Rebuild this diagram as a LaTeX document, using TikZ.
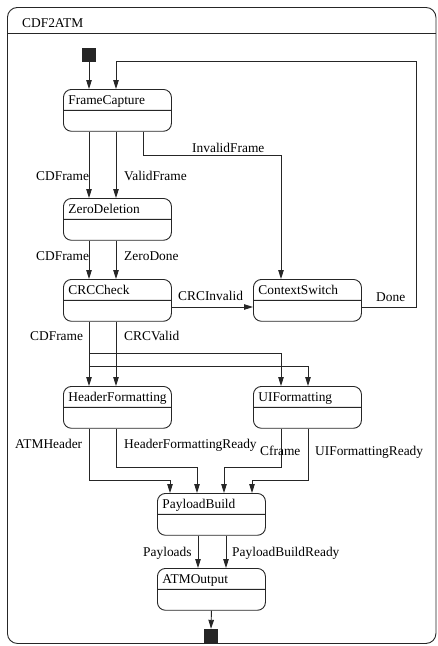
\documentclass[tikz,border=0pt]{standalone}
\usepackage{fontspec}
\setmainfont{Liberation Serif}
\usetikzlibrary{arrows.meta,shapes.multipart}
\begin{document}
\begin{tikzpicture}[x=1pt,y=-1pt,
  every node/.style={font=\fontsize{13.4}{15}\selectfont},
  state/.style={rectangle split, rectangle split parts=2, draw=black!85, line width=0.9pt,
    rounded corners=8pt, inner xsep=5pt, inner ysep=0pt, text width=98pt, align=left, anchor=north west},
  lbl/.style={anchor=base west, inner sep=0pt},
  tr/.style={draw=black!85, line width=0.9pt, -{Triangle[length=9pt,width=5.5pt]}},
  ln/.style={draw=black!85, line width=0.9pt},
  pseudo/.style={fill=black!85, minimum size=14pt, inner sep=0pt},
]
\useasboundingbox (0,0) rectangle (437,646);
% frame
\node[draw=black!85, line width=0.9pt, rounded corners=10pt, minimum width=428.5pt, minimum height=636pt,
  anchor=north west, inner sep=0pt] (frame) at (7,7) {};
\coordinate (Yh) at (0,33);
\draw[ln] (frame.west |- Yh) -- (frame.east |- Yh);
\node[lbl] (ttl) at (22,27) {CDF2ATM};

% lanes and rows
\coordinate (L1) at (89,0);
\coordinate (L2) at (116,0);
\coordinate (L3) at (143,0);
\coordinate (R1) at (281,0);
\coordinate (R2) at (308,0);
\coordinate (Lp) at (416,0);
\coordinate (P1) at (170,0);
\coordinate (P2) at (197,0);
\coordinate (P3) at (224,0);
\coordinate (P4) at (252,0);
\coordinate (Q1) at (198,0);
\coordinate (Q2) at (226,0);
\coordinate (Yt) at (0,61);
\coordinate (Yi) at (0,155);
\coordinate (Yd) at (0,307);
\coordinate (Yb1) at (0,353);
\coordinate (Yb2) at (0,366);
\coordinate (Yc1) at (0,467);
\coordinate (Yc2) at (0,480);

% states
\newcommand{\stT}[1]{\rule[-5.5pt]{0pt}{20pt}#1\nodepart{two}\rule{0pt}{20pt}}
\node[state] (fc) at (63,89) {\stT{FrameCapture}};
\node[state] (zd) at (63,198) {\stT{ZeroDeletion}};
\node[state] (crc) at (63,279) {\stT{CRCCheck}};
\node[state] (cs) at (253,279) {\stT{ContextSwitch}};
\node[state] (hf) at (63,386) {\stT{HeaderFormatting}};
\node[state] (uf) at (253,386) {\stT{UIFormatting}};
\node[state] (pb) at (157,493) {\stT{PayloadBuild}};
\node[state] (ao) at (157,568) {\stT{ATMOutput}};

\node[pseudo] (init) at (89,55) {};
\node[pseudo] (fin) at (211,636) {};

% transitions
\draw[tr] (init) -- (fc.north -| L1);
\draw[tr] (cs.east |- Yd) -- (Lp |- Yd) -- (Lp |- Yt) -- (L2 |- Yt) -- (fc.north -| L2);
\draw[tr] (fc.south -| L1) -- (zd.north -| L1);
\draw[tr] (fc.south -| L2) -- (zd.north -| L2);
\draw[tr] (fc.south -| L3) -- (L3 |- Yi) -- (R1 |- Yi) -- (cs.north -| R1);
\draw[tr] (zd.south -| L1) -- (crc.north -| L1);
\draw[tr] (zd.south -| L2) -- (crc.north -| L2);
\draw[tr] (crc.east |- Yd) -- (cs.west |- Yd);
\draw[tr] (crc.south -| L1) -- (hf.north -| L1);
\draw[tr] (crc.south -| L2) -- (hf.north -| L2);
\draw[tr] (L1 |- Yb1) -- (R1 |- Yb1) -- (uf.north -| R1);
\draw[tr] (L1 |- Yb2) -- (R2 |- Yb2) -- (uf.north -| R2);
\draw[tr] (hf.south -| L1) -- (L1 |- Yc2) -- (P1 |- Yc2) -- (pb.north -| P1);
\draw[tr] (hf.south -| L2) -- (L2 |- Yc1) -- (P2 |- Yc1) -- (pb.north -| P2);
\draw[tr] (uf.south -| R1) -- (R1 |- Yc1) -- (P3 |- Yc1) -- (pb.north -| P3);
\draw[tr] (uf.south -| R2) -- (R2 |- Yc2) -- (P4 |- Yc2) -- (pb.north -| P4);
\draw[tr] (pb.south -| Q1) -- (ao.north -| Q1);
\draw[tr] (pb.south -| Q2) -- (ao.north -| Q2);
\draw[tr] (ao.south) -- (fin.north);

% labels
\node[lbl] (l1) at (36,180) {CDFrame};
\node[lbl] (l2) at (124,180) {ValidFrame};
\node[lbl] (l3) at (192,152) {InvalidFrame};
\node[lbl] (l4) at (36,260) {CDFrame};
\node[lbl] (l5) at (124,260) {ZeroDone};
\node[lbl] (l6) at (178,300) {CRCInvalid};
\node[lbl] (l7) at (376,301) {Done};
\node[lbl] (l8) at (30,340) {CDFrame};
\node[lbl] (l9) at (124,340) {CRCValid};
\node[lbl] (l10) at (15,448) {ATMHeader};
\node[lbl] (l11) at (124,448) {HeaderFormattingReady};
\node[lbl] (l12) at (260,455) {Cframe};
\node[lbl] (l13) at (315,455) {UIFormattingReady};
\node[lbl] (l14) at (143,556) {Payloads};
\node[lbl] (l15) at (232,556) {PayloadBuildReady};
\end{tikzpicture}
\end{document}
